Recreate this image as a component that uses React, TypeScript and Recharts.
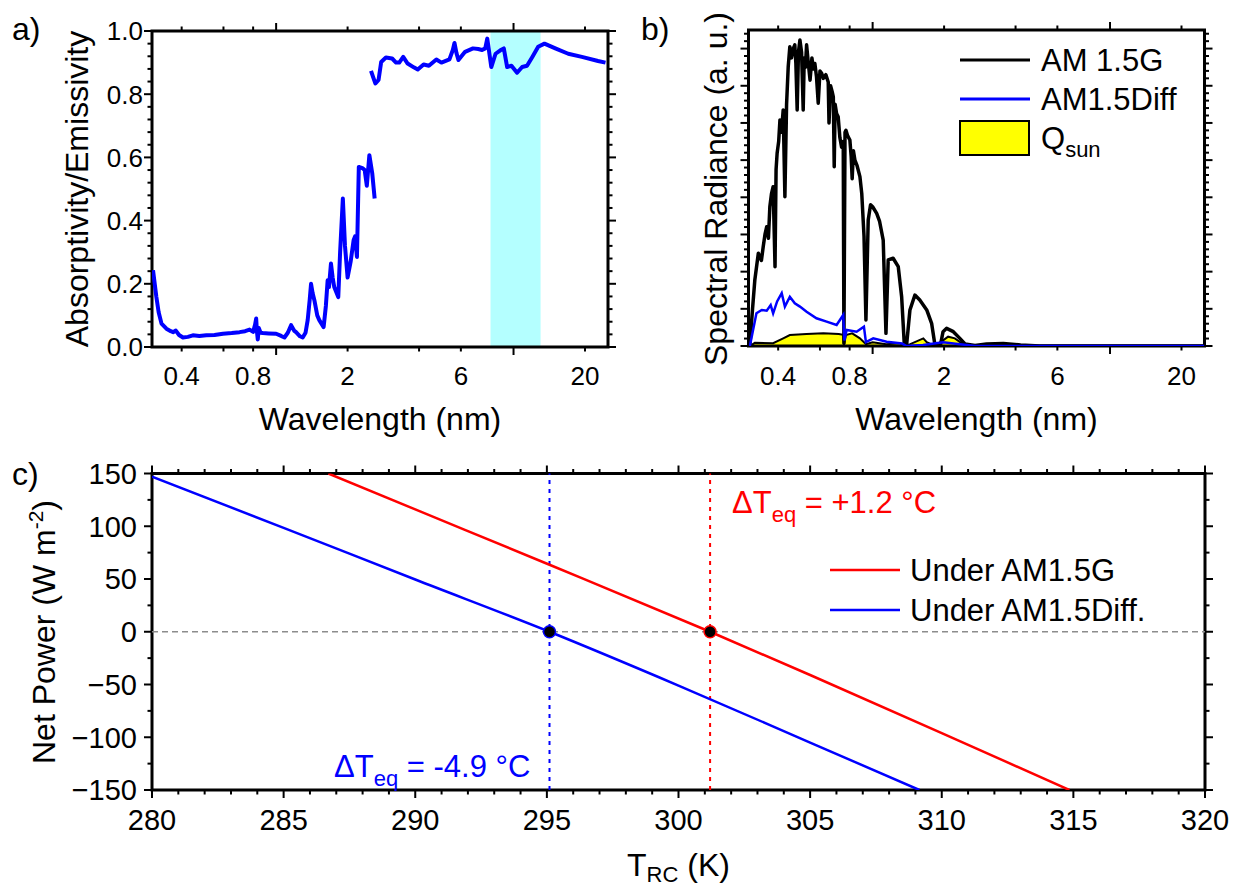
import { ComposedChart, Line, Area, XAxis, YAxis, ReferenceArea, ReferenceLine, ReferenceDot } from 'recharts';

const FONT = "'Liberation Sans', Arial, Helvetica, sans-serif";

// wavelength axis shared by panels a and b (log scale)
const wlDomain: [number, number] = [0.3, 25];
const wlTicks = [0.4, 0.6, 0.8, 1, 2, 4, 6, 10, 20];
const wlLabels = [0.4, 0.8, 2, 6, 20];
const wlMajor = [1, 10];

// a) absorptivity, UV-VIS-NIR measurement
const absSolarWl = [0.303, 0.308, 0.313, 0.32, 0.329, 0.345, 0.36, 0.368, 0.378, 0.39, 0.405, 0.425, 0.446, 0.475, 0.508, 0.55, 0.597, 0.65, 0.701, 0.74, 0.773, 0.8, 0.815, 0.824, 0.83, 0.837, 0.845, 0.86, 0.879, 0.93, 1.0, 1.05, 1.084, 1.12, 1.156, 1.19, 1.213, 1.26, 1.294, 1.33, 1.358, 1.385, 1.403, 1.425, 1.449, 1.49, 1.52, 1.585, 1.62, 1.648, 1.67, 1.702, 1.73, 1.757, 1.827, 1.86, 1.91, 1.95, 2.0, 2.06, 2.12, 2.15, 2.19, 2.23, 2.32, 2.36, 2.41, 2.47, 2.54, 2.6];
const absSolarVal = [0.243, 0.2, 0.158, 0.11, 0.074, 0.058, 0.05, 0.047, 0.052, 0.038, 0.03, 0.032, 0.037, 0.035, 0.037, 0.038, 0.042, 0.044, 0.047, 0.05, 0.055, 0.048, 0.07, 0.09, 0.05, 0.024, 0.06, 0.045, 0.044, 0.043, 0.042, 0.035, 0.03, 0.045, 0.069, 0.052, 0.047, 0.034, 0.03, 0.045, 0.085, 0.15, 0.2, 0.17, 0.148, 0.1, 0.085, 0.063, 0.13, 0.211, 0.19, 0.264, 0.22, 0.19, 0.158, 0.3, 0.47, 0.32, 0.22, 0.27, 0.338, 0.35, 0.285, 0.57, 0.565, 0.56, 0.51, 0.607, 0.55, 0.47];

// a) emissivity, FTIR measurement
const absIrWl = [2.51, 2.56, 2.62, 2.7, 2.77, 2.9, 3.08, 3.2, 3.3, 3.43, 3.58, 3.8, 3.95, 4.18, 4.4, 4.73, 4.97, 5.37, 5.55, 5.64, 5.75, 5.86, 6.25, 6.75, 7.1, 7.37, 7.6, 7.75, 8.06, 8.4, 8.8, 9.1, 9.4, 9.8, 10.35, 10.87, 11.4, 12.0, 12.7, 13.5, 15.0, 17.0, 19.4, 22.7, 24.4];
const absIrVal = [0.874, 0.855, 0.834, 0.845, 0.902, 0.916, 0.913, 0.9, 0.9, 0.918, 0.897, 0.885, 0.878, 0.894, 0.89, 0.91, 0.9, 0.91, 0.94, 0.962, 0.93, 0.908, 0.934, 0.945, 0.943, 0.94, 0.945, 0.976, 0.886, 0.928, 0.939, 0.945, 0.886, 0.89, 0.868, 0.886, 0.89, 0.918, 0.95, 0.96, 0.945, 0.928, 0.918, 0.905, 0.9];

// atmospheric window
const windowBand = [8, 13];

// b) solar spectra
const am15gWl = [0.304, 0.312, 0.319, 0.33, 0.34, 0.346, 0.352, 0.358, 0.364, 0.369, 0.375, 0.381, 0.388, 0.392, 0.396, 0.402, 0.407, 0.413, 0.42, 0.427, 0.434, 0.441, 0.448, 0.455, 0.463, 0.47, 0.475, 0.481, 0.487, 0.494, 0.502, 0.51, 0.515, 0.521, 0.527, 0.536, 0.545, 0.555, 0.563, 0.571, 0.58, 0.59, 0.6, 0.61, 0.62, 0.635, 0.65, 0.655, 0.665, 0.675, 0.683, 0.689, 0.695, 0.705, 0.716, 0.728, 0.74, 0.752, 0.757, 0.765, 0.772, 0.785, 0.802, 0.812, 0.82, 0.83, 0.842, 0.86, 0.884, 0.9, 0.92, 0.937, 0.958, 0.98, 1.0, 1.04, 1.07, 1.108, 1.138, 1.163, 1.22, 1.282, 1.325, 1.36, 1.39, 1.436, 1.507, 1.58, 1.69, 1.772, 1.83, 1.93, 1.98, 2.05, 2.187, 2.33, 2.45, 2.7, 3.02, 3.55, 4.2, 5.06, 25];
const am15gVal = [0.005, 0.2, 0.355, 0.499, 0.46, 0.534, 0.6, 0.642, 0.58, 0.749, 0.82, 0.857, 0.427, 0.95, 1.037, 1.1, 1.216, 1.15, 1.27, 0.803, 1.3, 1.503, 1.61, 1.55, 1.6, 1.62, 1.52, 1.27, 1.58, 1.646, 1.58, 1.27, 1.55, 1.5, 1.62, 1.52, 1.43, 1.55, 1.49, 1.52, 1.45, 1.306, 1.48, 1.467, 1.44, 1.46, 1.42, 1.2, 1.4, 1.37, 1.34, 0.964, 1.3, 1.25, 1.233, 1.12, 1.07, 1.1, 0.015, 1.15, 1.16, 1.13, 1.108, 1.02, 0.9, 1.05, 1.0, 0.97, 0.911, 0.82, 0.588, 0.14, 0.678, 0.76, 0.749, 0.713, 0.67, 0.57, 0.068, 0.463, 0.472, 0.427, 0.265, 0.005, 0.005, 0.194, 0.274, 0.247, 0.194, 0.122, 0.005, 0.005, 0.077, 0.095, 0.077, 0.041, 0.011, 0.003, 0.011, 0.014, 0.006, 0, 0];

const diffWl = [0.304, 0.324, 0.341, 0.358, 0.372, 0.381, 0.396, 0.414, 0.427, 0.448, 0.47, 0.494, 0.527, 0.58, 0.64, 0.705, 0.752, 0.76, 0.777, 0.856, 0.919, 0.937, 1.006, 1.145, 1.33, 1.39, 1.63, 1.98, 2.7, 25];
const diffVal = [0, 0.176, 0.194, 0.19, 0.22, 0.176, 0.24, 0.284, 0.212, 0.265, 0.23, 0.212, 0.184, 0.149, 0.131, 0.113, 0.167, 0.03, 0.086, 0.077, 0.104, 0.021, 0.041, 0.023, 0.013, 0, 0.005, 0.02, 0, 0];

const qsunWl = [0.304, 0.319, 0.381, 0.42, 0.448, 0.527, 0.62, 0.72, 0.752, 0.757, 0.772, 0.82, 0.884, 0.937, 1.0, 1.14, 1.3, 1.36, 1.44, 1.635, 1.69, 1.83, 1.98, 2.08, 2.22, 2.4, 2.55];
const qsunVal = [0, 0.017, 0.015, 0.041, 0.059, 0.065, 0.068, 0.065, 0.06, 0.005, 0.059, 0.068, 0.041, 0.01, 0.02, 0.01, 0.015, 0, 0.01, 0.041, 0.02, 0, 0.03, 0.05, 0.041, 0.01, 0];

// c) net cooling power vs radiative cooler temperature
const gTemp = [286.7, 290, 295.1, 301.2, 305, 310, 314.85];
const gPower = [150, 116, 63.5, 0, -41, -96, -150];
const diffTemp = [280, 285, 290, 295.1, 300, 305, 309.15];
const diffPower = [147, 98.5, 49.5, 0, -51, -105, -150];
const ambientK = 300;
const deltaTeq = [1.2, -4.9]; // AM1.5G, AM1.5Diff

const pairs = (xs: number[], ys: number[]) => xs.map((x, i) => ({ x, y: ys[i] }));

function stepTicks(lo: number, hi: number, step: number) {
  const out: number[] = [];
  const n = Math.round((hi - lo) / step);
  for (let i = 0; i <= n; i++) out.push(+(lo + i * step).toFixed(6));
  return out;
}

type Box = { left: number; right: number; top: number; bottom: number };

// ticks drawn outward on both opposite sides, Origin style
const xTick = (box: Box, isMajor: (v: number) => boolean, label: (v: number) => string | null, fontSize: number, gap: number) =>
  (props: any) => {
    const x = props.x;
    const v = props.payload.value;
    const len = isMajor(v) ? 8 : 4.5;
    const text = label(v);
    return (
      <g>
        <line x1={x} x2={x} y1={box.bottom} y2={box.bottom + len} stroke="#000" strokeWidth={2} />
        <line x1={x} x2={x} y1={box.top} y2={box.top - len} stroke="#000" strokeWidth={2} />
        {text !== null && (
          <text x={x} y={box.bottom + gap} textAnchor="middle" fontSize={fontSize} fontFamily={FONT} fill="#000">
            {text}
          </text>
        )}
      </g>
    );
  };

const yTick = (box: Box, isMajor: (v: number) => boolean, label: (v: number) => string | null, fontSize: number, gap: number) =>
  (props: any) => {
    const y = props.y;
    const v = props.payload.value;
    const len = isMajor(v) ? 8 : 4.5;
    const text = label(v);
    return (
      <g>
        <line x1={box.left} x2={box.left - len} y1={y} y2={y} stroke="#000" strokeWidth={2} />
        <line x1={box.right} x2={box.right + len} y1={y} y2={y} stroke="#000" strokeWidth={2} />
        {text !== null && (
          <text x={box.left - gap} y={y + fontSize * 0.36} textAnchor="end" fontSize={fontSize} fontFamily={FONT} fill="#000">
            {text}
          </text>
        )}
      </g>
    );
  };

const wlIsMajor = (v: number) => wlMajor.includes(v);
const wlLabel = (v: number) => (wlLabels.includes(v) ? String(v) : null);

// panel a
const boxA: Box = { left: 152, right: 608, top: 31, bottom: 347 };
const absTicks = stepTicks(0, 1, 0.04);

function PanelA() {
  return (
    <ComposedChart width={620} height={440} margin={{ top: 31, right: 12, bottom: 53, left: 112 }}>
      <XAxis
        dataKey="x"
        type="number"
        scale="log"
        domain={wlDomain}
        allowDataOverflow
        ticks={wlTicks}
        interval={0}
        height={40}
        axisLine={false}
        tickLine={false}
        tick={xTick(boxA, wlIsMajor, wlLabel, 26, 38)}
      />
      <YAxis
        type="number"
        domain={[0, 1]}
        allowDataOverflow
        ticks={absTicks}
        interval={0}
        width={40}
        axisLine={false}
        tickLine={false}
        tick={yTick(boxA, (v) => Math.round(v * 100) % 20 === 0, (v) => (Math.round(v * 100) % 20 === 0 ? v.toFixed(1) : null), 26, 9)}
      />
      <ReferenceArea x1={windowBand[0]} x2={windowBand[1]} y1={0} y2={1} fill="#b4ffff" fillOpacity={1} stroke="none" />
      <Line data={pairs(absSolarWl, absSolarVal)} dataKey="y" type="linear" stroke="#0000ff" strokeWidth={4} strokeLinejoin="round" dot={false} activeDot={false} isAnimationActive={false} />
      <Line data={pairs(absIrWl, absIrVal)} dataKey="y" type="linear" stroke="#0000ff" strokeWidth={4} strokeLinejoin="round" dot={false} activeDot={false} isAnimationActive={false} />
      <ReferenceArea x1={wlDomain[0]} x2={wlDomain[1]} y1={0} y2={1} fill="none" stroke="#000" strokeWidth={3} ifOverflow="visible" />
    </ComposedChart>
  );
}

// panel b
const boxB: Box = { left: 128.5, right: 584.5, top: 30, bottom: 346 };
const radTicks = stepTicks(0, 1.68, 0.04);

function PanelB() {
  return (
    <ComposedChart width={613} height={440} margin={{ top: 30, right: 28.5, bottom: 54, left: 88.5 }}>
      <XAxis
        dataKey="x"
        type="number"
        scale="log"
        domain={wlDomain}
        allowDataOverflow
        ticks={wlTicks}
        interval={0}
        height={40}
        axisLine={false}
        tickLine={false}
        tick={xTick(boxB, wlIsMajor, wlLabel, 26, 39)}
      />
      <YAxis
        type="number"
        domain={[0, 1.7]}
        allowDataOverflow
        ticks={radTicks}
        interval={0}
        width={40}
        axisLine={false}
        tickLine={false}
        tick={yTick(boxB, (v) => Math.round(v * 100) % 20 === 0, () => null, 26, 9)}
      />
      <Area data={pairs(qsunWl, qsunVal)} dataKey="y" type="linear" fill="#ffff00" fillOpacity={1} stroke="#000" strokeWidth={2} dot={false} activeDot={false} isAnimationActive={false} />
      <Line data={pairs(am15gWl, am15gVal)} dataKey="y" type="linear" stroke="#000" strokeWidth={3.5} strokeLinejoin="round" dot={false} activeDot={false} isAnimationActive={false} />
      <Line data={pairs(diffWl, diffVal)} dataKey="y" type="linear" stroke="#0000ff" strokeWidth={2.5} dot={false} activeDot={false} isAnimationActive={false} />
      <ReferenceArea x1={wlDomain[0]} x2={wlDomain[1]} y1={0} y2={1.7} fill="none" stroke="#000" strokeWidth={3} ifOverflow="visible" />
    </ComposedChart>
  );
}

// panel c
const boxC: Box = { left: 152, right: 1205, top: 33.5, bottom: 350 };
const tempTicks = stepTicks(280, 320, 1);
const powerTicks = stepTicks(-150, 150, 25);
const fmtPower = (v: number) => (v < 0 ? '\u2212' + Math.abs(v) : String(v));

function PanelC() {
  const [dG, dDiff] = deltaTeq;
  return (
    <ComposedChart width={1233} height={448} margin={{ top: 33.5, right: 28, bottom: 58, left: 112 }}>
      <XAxis
        dataKey="x"
        type="number"
        domain={[280, 320]}
        allowDataOverflow
        ticks={tempTicks}
        interval={0}
        height={40}
        axisLine={false}
        tickLine={false}
        tick={xTick(boxC, (v) => v % 5 === 0, (v) => (v % 5 === 0 ? String(v) : null), 29, 40)}
      />
      <YAxis
        type="number"
        domain={[-150, 150]}
        allowDataOverflow
        ticks={powerTicks}
        interval={0}
        width={40}
        axisLine={false}
        tickLine={false}
        tick={yTick(boxC, (v) => v % 50 === 0, (v) => (v % 50 === 0 ? fmtPower(v) : null), 29, 15)}
      />
      <ReferenceLine y={0} stroke="#8c8c8c" strokeWidth={1.3} strokeDasharray="6 4" />
      <ReferenceLine x={ambientK + dDiff} stroke="#0000ff" strokeWidth={2} strokeDasharray="4 5" />
      <ReferenceLine x={ambientK + dG} stroke="#ff0000" strokeWidth={2} strokeDasharray="4 5" />
      <Line data={pairs(gTemp, gPower)} dataKey="y" type="monotone" stroke="#ff0000" strokeWidth={2.5} dot={false} activeDot={false} isAnimationActive={false} />
      <Line data={pairs(diffTemp, diffPower)} dataKey="y" type="monotone" stroke="#0000ff" strokeWidth={2.5} dot={false} activeDot={false} isAnimationActive={false} />
      <ReferenceArea x1={280} x2={320} y1={-150} y2={150} fill="none" stroke="#000" strokeWidth={3} ifOverflow="visible" />
      <ReferenceDot x={ambientK + dDiff} y={0} r={6} fill="#000" stroke="#0000ff" strokeWidth={1.5} />
      <ReferenceDot x={ambientK + dG} y={0} r={6} fill="#000" stroke="#ff0000" strokeWidth={1.5} />
    </ComposedChart>
  );
}

const fmtDelta = (d: number) => (d > 0 ? '+' : '') + d.toFixed(1);

function Annotations() {
  const [dG, dDiff] = deltaTeq;
  const t = { fontFamily: FONT, fill: '#000' };
  return (
    <svg width={1233} height={888} style={{ position: 'absolute', left: 0, top: 0, pointerEvents: 'none' }}>
      <text x={12} y={40} fontSize={32} {...t}>a)</text>
      <text x={641} y={40} fontSize={32} {...t}>b)</text>
      <text x={12} y={485} fontSize={32} {...t}>c)</text>

      <text transform="translate(88,189) rotate(-90)" textAnchor="middle" fontSize={32} {...t}>Absorptivity/Emissivity</text>
      <text x={380} y={430} textAnchor="middle" fontSize={32} {...t}>Wavelength (nm)</text>

      <text transform="translate(727,189) rotate(-90)" textAnchor="middle" fontSize={32} {...t}>Spectral Radiance (a. u.)</text>
      <text x={976.5} y={430} textAnchor="middle" fontSize={32} {...t}>Wavelength (nm)</text>

      <line x1={960} x2={1030} y1={60} y2={60} stroke="#000" strokeWidth={3} />
      <text x={1041} y={71} fontSize={31} {...t}>AM 1.5G</text>
      <line x1={960} x2={1030} y1={99} y2={99} stroke="#0000ff" strokeWidth={3} />
      <text x={1041} y={110} fontSize={31} {...t}>AM1.5Diff</text>
      <rect x={960} y={121} width={69} height={34} fill="#ffff00" stroke="#000" strokeWidth={2} />
      <text x={1041} y={149} fontSize={31} {...t}>
        Q<tspan dy={8} fontSize={22}>sun</tspan>
      </text>

      <text transform="translate(55,632) rotate(-90)" textAnchor="middle" fontSize={32} {...t}>
        Net Power (W m<tspan dy={-12} fontSize={21}>-2</tspan><tspan dy={12}>)</tspan>
      </text>
      <text x={678.5} y={876} textAnchor="middle" fontSize={32} {...t}>
        T<tspan dy={6} fontSize={22}>RC</tspan><tspan dy={-6}> (K)</tspan>
      </text>

      <line x1={830} x2={900} y1={570} y2={570} stroke="#ff0000" strokeWidth={2.5} />
      <text x={910} y={581} fontSize={31} {...t}>Under AM1.5G</text>
      <line x1={830} x2={900} y1={610} y2={610} stroke="#0000ff" strokeWidth={2.5} />
      <text x={910} y={621} fontSize={31} {...t}>Under AM1.5Diff.</text>

      <text x={732} y={513} fontSize={31} fontFamily={FONT} fill="#ff0000">
        ΔT<tspan dy={9} fontSize={22}>eq</tspan><tspan dy={-9}>{` = ${fmtDelta(dG)} °C`}</tspan>
      </text>
      <text x={334} y={777} fontSize={31} fontFamily={FONT} fill="#0000ff">
        ΔT<tspan dy={9} fontSize={22}>eq</tspan><tspan dy={-9}>{` = ${fmtDelta(dDiff)} °C`}</tspan>
      </text>
    </svg>
  );
}

export default function App() {
  return (
    <div style={{ position: 'absolute', left: 0, top: 0, width: 1233, height: 888, background: '#fff' }}>
      <div style={{ position: 'absolute', left: 0, top: 0 }}>
        <PanelA />
      </div>
      <div style={{ position: 'absolute', left: 620, top: 0 }}>
        <PanelB />
      </div>
      <div style={{ position: 'absolute', left: 0, top: 440 }}>
        <PanelC />
      </div>
      <Annotations />
    </div>
  );
}
